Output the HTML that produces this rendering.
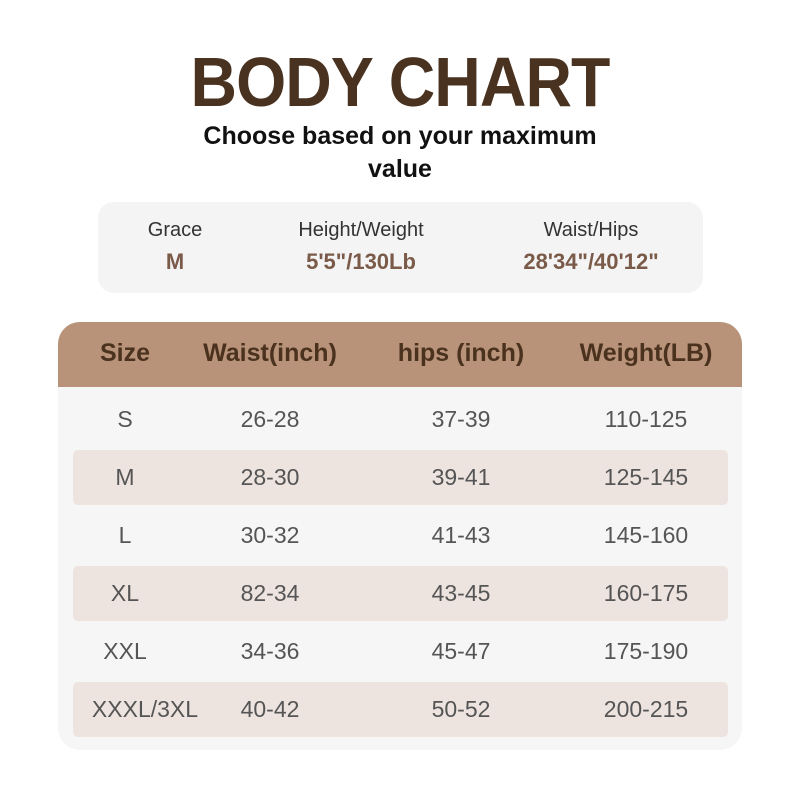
<!DOCTYPE html>
<html><head><meta charset="utf-8"><style>
body{margin:0;width:800px;height:800px;background:#fff;font-family:"Liberation Sans",sans-serif;position:relative;overflow:hidden}
.a{position:absolute;white-space:nowrap;transform:translateX(-50%)}
.t{left:400px;top:42px;font-size:70px;font-weight:bold;color:#4a3220;letter-spacing:-1px;transform:translateX(-50%) scaleX(0.92)}
.s{left:400px;font-size:25px;font-weight:bold;color:#111}
.box{position:absolute;left:98px;top:202px;width:605px;height:91px;background:#f4f4f4;border-radius:16px}
.l{font-size:20px;color:#333;top:219px}
.v{font-size:22px;font-weight:bold;color:#7a5a48;top:249px}
.tb{position:absolute;left:58px;top:322px;width:684px;height:428px;background:#f6f6f6;border-radius:22px;overflow:hidden}
.hd{position:absolute;left:0;top:0;width:684px;height:65px;background:#b89279}
.h{font-size:25px;font-weight:bold;color:#4a321e;top:339px}
.st{position:absolute;left:73px;width:655px;height:55px;background:#ede3df;border-radius:5px}
.c{font-size:23px;color:#555}
</style></head><body>
<div class="a t">BODY CHART</div>
<div class="a s" style="top:122px">Choose based on your maximum</div>
<div class="a s" style="top:155px">value</div>
<div class="box"></div>
<div class="a l" style="left:175px">Grace</div>
<div class="a l" style="left:361px">Height/Weight</div>
<div class="a l" style="left:591px">Waist/Hips</div>
<div class="a v" style="left:175px">M</div>
<div class="a v" style="left:361px">5'5"/130Lb</div>
<div class="a v" style="left:591px">28'34"/40'12"</div>
<div class="tb"><div class="hd"></div></div>
<div class="a h" style="left:125px">Size</div>
<div class="a h" style="left:270px">Waist(inch)</div>
<div class="a h" style="left:461px">hips (inch)</div>
<div class="a h" style="left:646px">Weight(LB)</div>
<div class="st" style="top:450px"></div>
<div class="st" style="top:566px"></div>
<div class="st" style="top:682px"></div>
<div class="a c" style="left:125px;top:406px">S</div><div class="a c" style="left:270px;top:406px">26-28</div><div class="a c" style="left:461px;top:406px">37-39</div><div class="a c" style="left:646px;top:406px">110-125</div>
<div class="a c" style="left:125px;top:464px">M</div><div class="a c" style="left:270px;top:464px">28-30</div><div class="a c" style="left:461px;top:464px">39-41</div><div class="a c" style="left:646px;top:464px">125-145</div>
<div class="a c" style="left:125px;top:522px">L</div><div class="a c" style="left:270px;top:522px">30-32</div><div class="a c" style="left:461px;top:522px">41-43</div><div class="a c" style="left:646px;top:522px">145-160</div>
<div class="a c" style="left:125px;top:580px">XL</div><div class="a c" style="left:270px;top:580px">82-34</div><div class="a c" style="left:461px;top:580px">43-45</div><div class="a c" style="left:646px;top:580px">160-175</div>
<div class="a c" style="left:125px;top:638px">XXL</div><div class="a c" style="left:270px;top:638px">34-36</div><div class="a c" style="left:461px;top:638px">45-47</div><div class="a c" style="left:646px;top:638px">175-190</div>
<div class="a c" style="left:145px;top:696px">XXXL/3XL</div><div class="a c" style="left:270px;top:696px">40-42</div><div class="a c" style="left:461px;top:696px">50-52</div><div class="a c" style="left:646px;top:696px">200-215</div>
</body></html>
